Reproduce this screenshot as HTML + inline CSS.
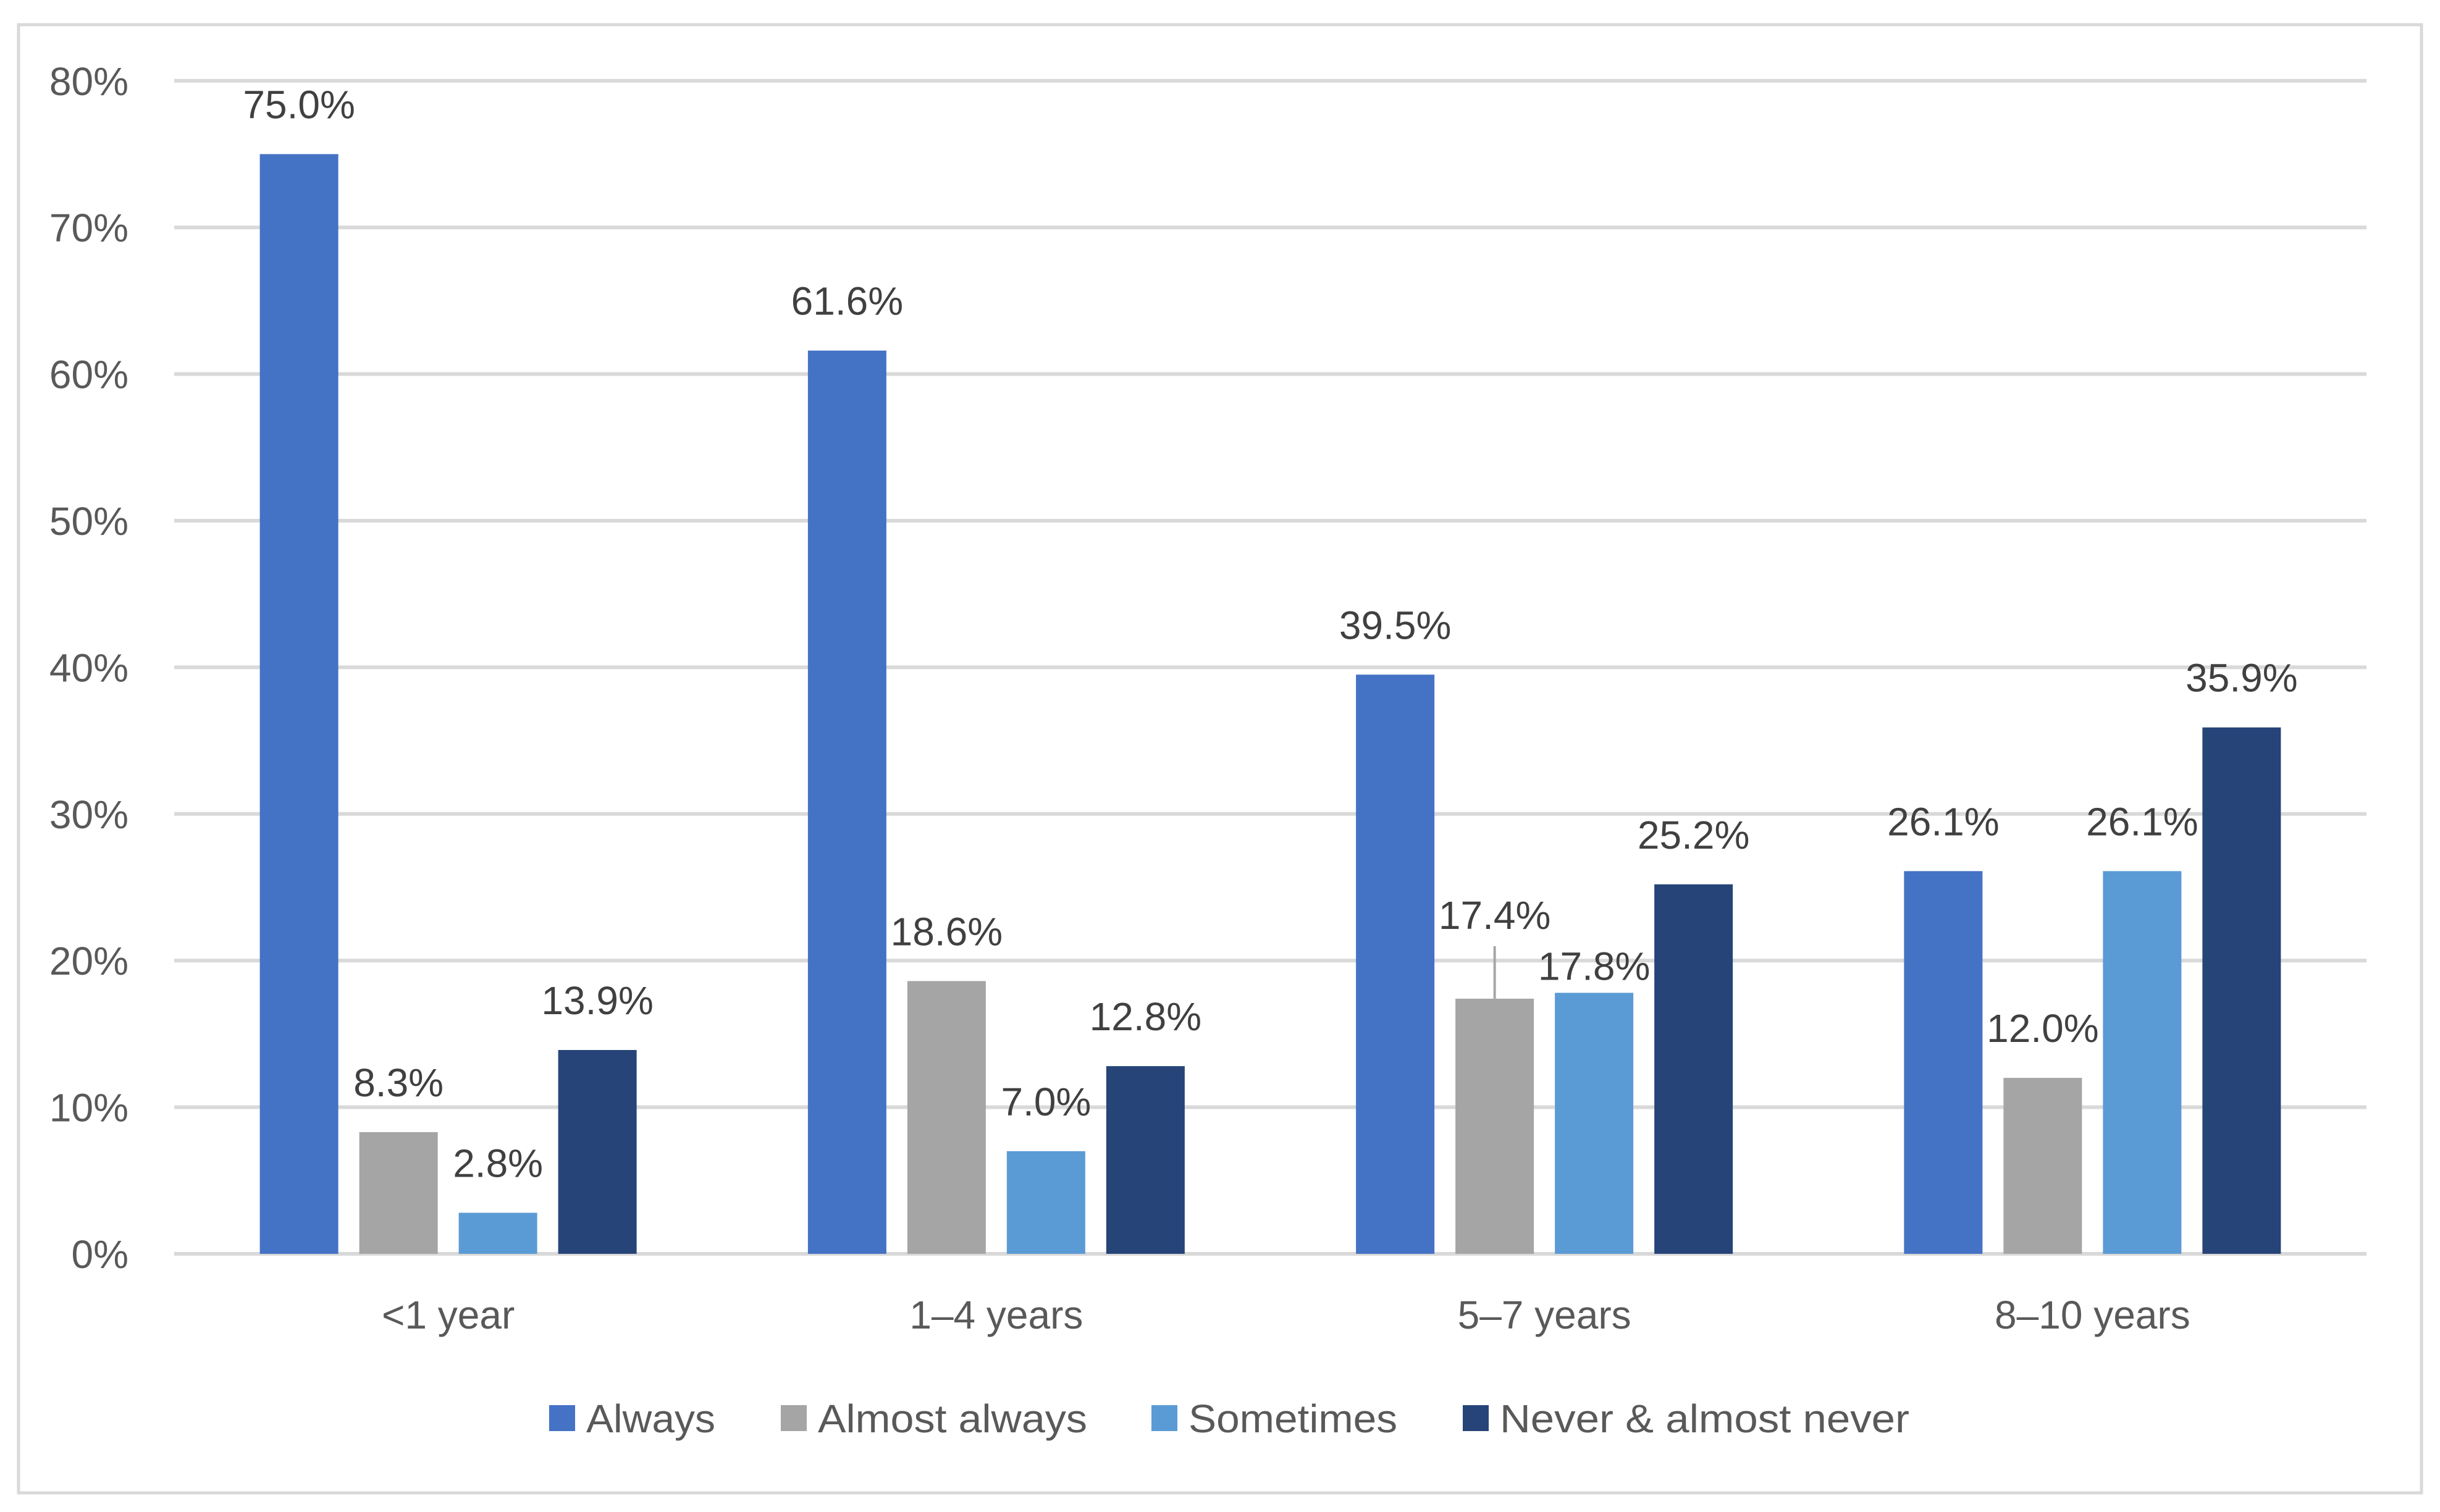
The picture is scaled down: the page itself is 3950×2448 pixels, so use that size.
<!DOCTYPE html>
<html><head><meta charset="utf-8"><style>
html,body{margin:0;padding:0;background:#fff;}
svg{display:block;font-family:"Liberation Sans",sans-serif;}
</style></head><body>
<svg id="chart" width="3950" height="2448" viewBox="0 0 3950 2448">
<rect x="30" y="40" width="3890" height="2377" fill="#fff" stroke="#d9d9d9" stroke-width="5"/>
<g id="grid"></g><g id="bars"></g><g id="labels"></g><g id="legend"></g>
</svg>
<script>
const categories = ["<1 year","1–4 years","5–7 years","8–10 years"];
const seriesNames = ["Always","Almost always","Sometimes","Never & almost never"];
const always = [75.0, 61.6, 39.5, 26.1];
const almostAlways = [8.3, 18.6, 17.4, 12.0];
const sometimes = [2.8, 7.0, 17.8, 26.1];
const never = [13.9, 12.8, 25.2, 35.9];
const yTicks = [0,10,20,30,40,50,60,70,80];
const yTickLabels = ["0%","10%","20%","30%","40%","50%","60%","70%","80%"];

const series = [always, almostAlways, sometimes, never];
const colors = ["#4472C4","#A5A5A5","#5B9BD5","#264478"];
const NS = "http://www.w3.org/2000/svg";
const X0 = 282, X1 = 3831, Y0 = 2030, PER = 237.4;
const y = v => Y0 - v * PER / 10;
const groupW = (X1 - X0) / categories.length;
const barW = 127, gap = 34;
const barX = (ci, si) => X0 + groupW * ci + groupW / 2 - (4 * barW + 3 * gap) / 2 + si * (barW + gap);
function mk(tag, attrs, parent, text) {
  const e = document.createElementNS(NS, tag);
  for (const k in attrs) e.setAttribute(k, attrs[k]);
  if (text !== undefined) e.textContent = text;
  parent.appendChild(e);
  return e;
}
const grid = document.getElementById('grid');
yTicks.forEach((t, i) => {
  const l = mk('line', {x1: X0, x2: X1, y1: y(t), y2: y(t), stroke: '#d9d9d9', 'stroke-width': 6}, grid);
  
  
  const tx = mk('text', {x: 208, y: y(t) + 23, 'text-anchor': 'end', 'font-size': 64, fill: '#595959'}, grid, yTickLabels[i]);
  
  
});
const bars = document.getElementById('bars'), labels = document.getElementById('labels');
categories.forEach((c, ci) => {
  series.forEach((s, si) => {
    const v = s[ci];
    const bx = barX(ci, si);
    const r = mk('rect', {x: bx, y: y(v), width: barW, height: Y0 - y(v), fill: colors[si]}, bars);
    
    
    let by = y(v) - 58;
    if (ci === 2 && si === 1) {
      by = y(v) - 113;
      const ll = mk('line', {x1: bx + barW / 2, x2: bx + barW / 2, y1: by + 28, y2: y(v), stroke: '#a6a6a6', 'stroke-width': 4}, labels);
      
      
    }
    if (ci === 2 && si === 2) by = y(v) - 21;
    const t = mk('text', {x: bx + barW / 2, y: by, 'text-anchor': 'middle', 'font-size': 64, fill: '#404040'}, labels, v.toFixed(1) + '%');
    
    
  });
  const ct = mk('text', {x: X0 + groupW * ci + groupW / 2, y: 2151, 'text-anchor': 'middle', 'font-size': 64, fill: '#595959'}, labels, c);
  
  
});
const legend = document.getElementById('legend');
const legX = [889, 1264, 1864, 2368];
const legLen = [209, 436, 338, 663];
seriesNames.forEach((n, i) => {
  const g = mk('g', {}, legend);
  
  
  mk('rect', {x: legX[i], y: 2275, width: 42, height: 42, fill: colors[i]}, g);
  mk('text', {x: legX[i] + 60, y: 2319, 'font-size': 64, fill: '#595959', textLength: legLen[i], lengthAdjust: 'spacingAndGlyphs'}, g, n);
});
</script>
</body></html>
